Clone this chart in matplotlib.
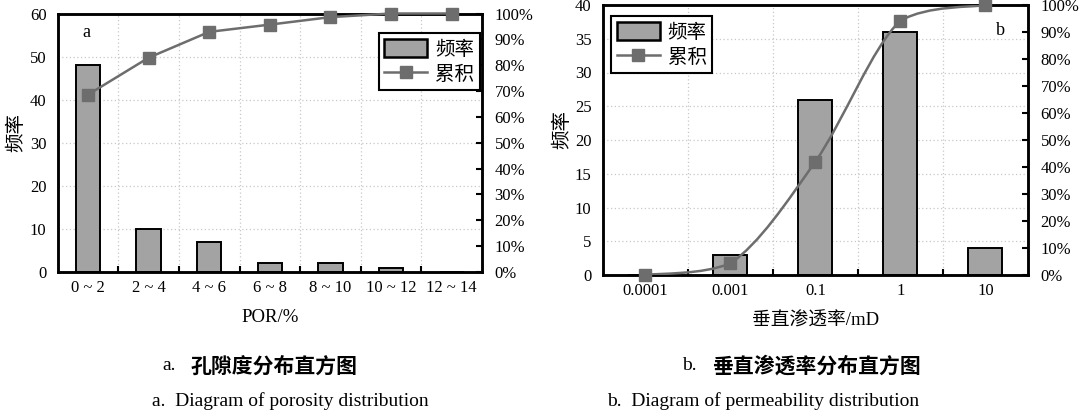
import matplotlib
matplotlib.use("Agg")
import matplotlib.pyplot as plt
import numpy as np
from matplotlib.path import Path
from matplotlib.patches import PathPatch, Patch
from matplotlib.lines import Line2D

# ---- data ----
por_cats = ["0 ~ 2", "2 ~ 4", "4 ~ 6", "6 ~ 8", "8 ~ 10", "10 ~ 12", "12 ~ 14"]
por_freq = [48, 10, 7, 2, 2, 1, 0]
por_cum = [68.6, 82.9, 92.9, 95.7, 98.6, 100.0, 100.0]

perm_cats = ["0.0001", "0.001", "0.1", "1", "10"]
perm_freq = [0, 3, 26, 36, 4]
perm_cum = [0.0, 4.3, 42.0, 94.2, 100.0]

cjk = ["Noto Sans CJK SC", "DejaVu Sans"]
lserif = ["Liberation Serif", "Noto Sans CJK SC"]
plt.rcParams['font.family'] = lserif

BAR_C = "#a3a3a3"
LINE_C = "#6d6d6d"
GRID_C = "#c8c8c8"
TICK_FS = 12

fig = plt.figure(figsize=(10.79, 4.16), dpi=100)


def smooth_path(xs, ys):
    # smoothed line style (cubic Bezier through the data points)
    pts = np.column_stack([xs, ys]).astype(float)
    n = len(pts)
    verts = [pts[0]]
    codes = [Path.MOVETO]
    t = 1.0 / 6.0
    for i in range(n - 1):
        p0 = pts[i - 1] if i > 0 else pts[i]
        p1 = pts[i]
        p2 = pts[i + 1]
        p3 = pts[i + 2] if i + 2 < n else pts[i + 1]
        c1 = p1 + (p2 - p0) * t
        c2 = p2 - (p3 - p1) * t
        lo, hi = min(p1[1], p2[1]), max(p1[1], p2[1])
        c1[1] = np.clip(c1[1], lo, hi)
        c2[1] = np.clip(c2[1], lo, hi)
        verts += [c1, c2, p2]
        codes += [Path.CURVE4] * 3
    return Path(verts, codes)


def panel(rect, cats, freq, cum, ymax, ystep, letter, letter_pos, legend_loc,
          legend_anchor, smooth, xlabel, ylab_pos):
    ax = fig.add_axes(rect)
    x = np.arange(len(cats))
    ax.bar(x, freq, width=0.4, color=BAR_C, edgecolor="black", linewidth=1.4, zorder=3)
    ax.set_xlim(-0.5, len(cats) - 0.5)
    ax.set_ylim(0, ymax)
    ax.set_yticks(np.arange(0, ymax + 0.1, ystep))
    ax.set_xticks(x)
    ax.set_xticklabels(cats)
    ax.set_xticks(np.arange(0.5, len(cats) - 0.5, 1), minor=True)
    ax.tick_params(axis="x", which="major", length=0, labelsize=TICK_FS, pad=6)
    ax.tick_params(axis="x", which="minor", direction="in", length=4, width=1.5)
    ax.tick_params(axis="y", direction="in", length=0, labelsize=TICK_FS, pad=8)
    ax.grid(True, axis="y", which="major", linestyle=(0, (1, 2)), color=GRID_C, linewidth=0.9, zorder=0)
    ax.grid(True, axis="x", which="minor", linestyle=(0, (1, 2)), color=GRID_C, linewidth=0.9, zorder=0)
    for s in ax.spines.values():
        s.set_linewidth(1.8)
    ax.set_ylabel("频率", family=cjk, fontsize=14)
    ax.yaxis.set_label_coords(*ylab_pos)
    ax.set_xlabel(xlabel, family=lserif, fontsize=13.5, labelpad=9)
    ax.text(letter_pos[0], letter_pos[1], letter, transform=ax.transAxes, fontsize=13,
            family=lserif, ha="center", va="center")

    ax2 = ax.twinx()
    ax2.set_ylim(0, 100)
    ax2.set_yticks(np.arange(0, 101, 10))
    ax2.set_yticklabels([f"{v}%" for v in range(0, 101, 10)])
    ax2.tick_params(axis="y", direction="in", length=4, width=1.5, labelsize=TICK_FS, pad=9)
    for s in ax2.spines.values():
        s.set_linewidth(1.8)
    if smooth:
        pp = PathPatch(smooth_path(x, cum), facecolor="none", edgecolor=LINE_C, linewidth=1.8, zorder=4)
        ax2.add_patch(pp)
        ax2.plot(x, cum, linestyle="none", marker="s", markersize=8, color=LINE_C, zorder=5, clip_on=False)
    else:
        ax2.plot(x, cum, marker="s", markersize=8, color=LINE_C, linewidth=1.8, zorder=5, clip_on=False)

    handles = [Patch(facecolor=BAR_C, edgecolor="black", linewidth=1.8),
               Line2D([], [], color=LINE_C, marker="s", markersize=8, linewidth=1.8)]
    leg = ax2.legend(handles, ["频率", "累积"], loc=legend_loc, bbox_to_anchor=legend_anchor,
                     prop={"family": cjk, "size": 14}, frameon=True, fancybox=False,
                     edgecolor="black", framealpha=1, borderpad=0.3, labelspacing=0.2,
                     handlelength=2.2, handleheight=1.0, handletextpad=0.4, borderaxespad=0)
    leg.get_frame().set_linewidth(1.5)
    return ax


W, H = 1079, 416
panel([57.7 / W, 1 - 272 / H, (482 - 57.7) / W, (272 - 13.5) / H],
      por_cats, por_freq, por_cum, 60, 10, "a", (0.067, 0.925),
      "upper right", (0.995, 0.925), False, "POR/%", (-0.075, 0.54))
panel([602.7 / W, 1 - 275 / H, (1028 - 602.7) / W, (275 - 5) / H],
      perm_cats, perm_freq, perm_cum, 40, 5, "b", (0.935, 0.905),
      "upper left", (0.02, 0.96), True, "垂直渗透率/mD", (-0.072, 0.54))

fig.text(162 / W, 1 - 366 / H, "a.", family=lserif, fontsize=14, ha="left", va="center")
fig.text(190 / W, 1 - 366 / H, "孔隙度分布直方图", family=cjk, fontsize=15, fontweight="bold",
         ha="left", va="center")
fig.text(152 / W, 1 - 401 / H, "a.  Diagram of porosity distribution", family=lserif, fontsize=14,
         ha="left", va="center")
fig.text(682 / W, 1 - 366 / H, "b.", family=lserif, fontsize=14, ha="left", va="center")
fig.text(712 / W, 1 - 366 / H, "垂直渗透率分布直方图", family=cjk, fontsize=15, fontweight="bold",
         ha="left", va="center")
fig.text(607 / W, 1 - 401 / H, "b.  Diagram of permeability distribution", family=lserif, fontsize=14,
         ha="left", va="center")

fig.savefig("out.png", dpi=100)
